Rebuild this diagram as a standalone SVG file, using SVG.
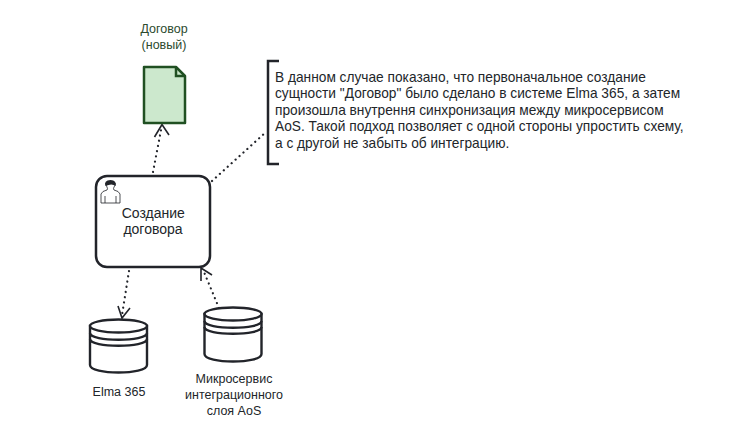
<svg xmlns="http://www.w3.org/2000/svg" width="748" height="437" viewBox="0 0 748 437">
<style>
text{font-family:"Liberation Sans",Arial,sans-serif;fill:#22262a}
.s{font-size:12.500px;text-anchor:middle}
.m{font-size:14px;text-anchor:middle}
.n{font-size:13.730px}
.d{fill:none;stroke:#22242a;stroke-width:2.200;stroke-dasharray:.1 5.200;stroke-linecap:round}
.a{fill:none;stroke:#22242a;stroke-width:1.600}
.c{fill:#fff;stroke:#22242a;stroke-width:2.400}
.l{fill:none;stroke:#22242a;stroke-width:2.400}
</style>
<rect width="748" height="437" fill="#fff"/>
<g id="connectors">
<path class="d" d="M153 172L161 130"/><path class="a" d="M154.500 137L162 124.500L169 135"/>
<path class="d" d="M212 181L266 132"/>
<path class="d" d="M129 271L122 315"/><path class="a" d="M118 306L122 318L130 308"/>
<path class="d" d="M219 308L204 272"/><path class="a" d="M201 281L201 268L212 275"/>
</g>
<g id="doc">
<path d="M144 67H176L185 76V123H144Z" fill="#cce8cd" stroke="#205022" stroke-width="2.500" stroke-linejoin="round"/>
<path d="M176 67V76H185" fill="none" stroke="#205022" stroke-width="2.500"/>
<text class="s" x="164" y="33" style="fill:#2c4a2e">Договор</text><text class="s" x="164" y="49" style="fill:#2c4a2e">(новый)</text>
</g>
<g id="task">
<rect x="96" y="176" width="114" height="91" rx="11" fill="#fff" stroke="#22242a" stroke-width="2.500"/>
<path d="M101 203V194Q102 191 107 190Q108 189 107 187Q105 184 106 183H115Q116 185 114 187Q113 189 114 190Q119 191 120 194V203Z" fill="#fff" stroke="#22242a" stroke-width=".8"/>
<path d="M105 203V196M116 203V196" fill="none" stroke="#22242a" stroke-width=".8"/>
<path d="M105.500 186Q103.500 180.500 110.500 180Q117 180.500 115.500 186Q112 183 105.500 186Z" fill="#22242a"/>
<text class="m" x="153.300" y="218">Создание</text><text class="m" x="153" y="234">договора</text>
</g>
<g id="elma">
<path class="c" d="M90 326V365C90 375 147 375 147 365V326Z"/>
<ellipse class="c" cx="118.500" cy="326" rx="28.500" ry="6.500"/>
<path class="l" d="M90 333C90 342 147 342 147 333M90 339C90 348 147 348 147 339"/>
<text class="s" x="119" y="396">Elma 365</text>
</g>
<g id="aos">
<path class="c" d="M204.500 314V354C204.500 364 261.500 364 261.500 354V314Z"/>
<ellipse class="c" cx="233" cy="314" rx="28.500" ry="6.500"/>
<path class="l" d="M204.500 321C204.500 330 261.500 330 261.500 321M204.500 327C204.500 336 261.500 336 261.500 327"/>
<text class="s" x="234" y="383">Микросервис</text><text class="s" x="234" y="399">интеграционного</text><text class="s" x="234" y="414.500">слоя AoS</text>
</g>
<g id="note">
<path d="M279 61H268V164H279" fill="none" stroke="#22242a" stroke-width="2.500"/>
<text class="n" x="275" y="82">В данном случае показано, что первоначальное создание</text>
<text class="n" x="275" y="98">сущности "Договор" было сделано в системе Elma 365, а затем</text>
<text class="n" x="275" y="115">произошла внутрення синхронизация между микросервисом</text>
<text class="n" x="275" y="131">AoS. Такой подход позволяет с одной стороны упростить схему,</text>
<text class="n" x="275" y="148">а с другой не забыть об интеграцию.</text>
</g>
</svg>
